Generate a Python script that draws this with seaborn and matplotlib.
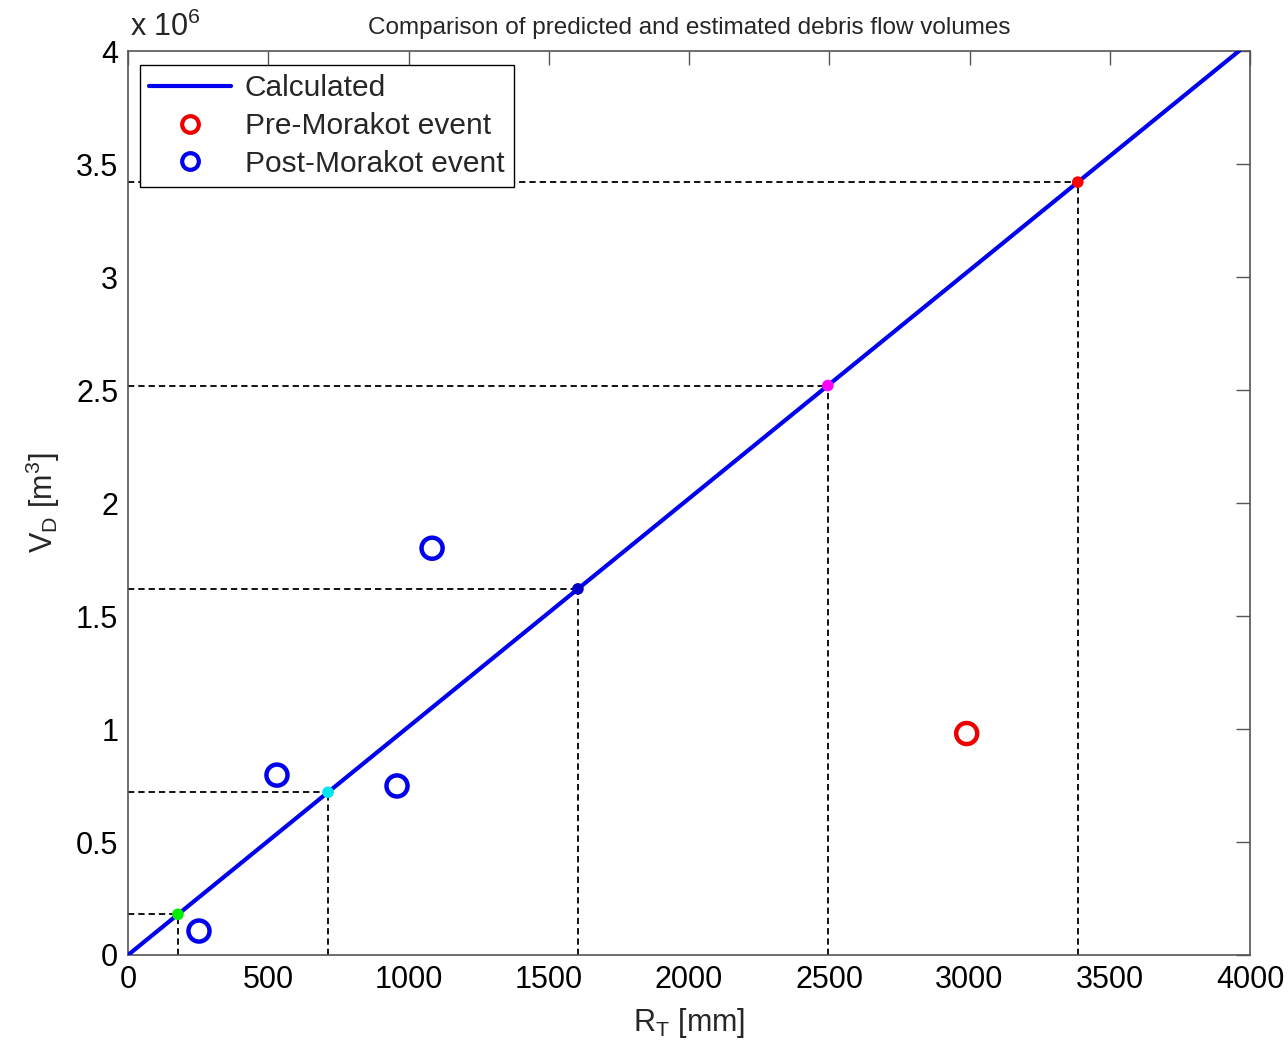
import matplotlib
matplotlib.use("Agg")
import matplotlib.pyplot as plt
import seaborn as sns
import pandas as pd
from matplotlib.ticker import MultipleLocator, FuncFormatter
from matplotlib.lines import Line2D

sns.set_style("white")
plt.rcParams["font.family"] = ["Liberation Sans", "DejaVu Sans"]
plt.rcParams["mathtext.default"] = "regular"

# Calculated relation (straight line through the origin)
line_r = [0, 4000]
line_v = [0, 4.04e6]

# Points picked off the calculated line, with their guide lines
mark_r = [178, 713, 1604, 2495, 3386]
mark_v = [0.18e6, 0.72e6, 1.62e6, 2.52e6, 3.42e6]
mark_colors = ["#00ee00", "#00e5ee", "#0000c8", "#ff00ff", "#ff0000"]

# Estimated volumes
pre_r = [2990]
pre_v = [0.98e6]
post_r = [253, 531, 959, 1084]
post_v = [0.106e6, 0.796e6, 0.748e6, 1.80e6]

fig = plt.figure(figsize=(12.88, 10.42), dpi=100)
ax = fig.add_axes([0.0994, 0.0835, 0.8711, 0.8675])

# dashed guide lines from the axes to each picked point
for r, v in zip(mark_r, mark_v):
    ax.plot([0, r], [v, v], color="black", lw=1.3, ls=(0, (3.5, 2.2)), zorder=2)
    ax.plot([r, r], [0, v], color="black", lw=1.3, ls=(0, (3.5, 2.2)), zorder=2)

df_line = pd.DataFrame({"R": line_r, "V": line_v})
sns.lineplot(data=df_line, x="R", y="V", ax=ax, color="#0000ee", lw=3, zorder=3)

df_mark = pd.DataFrame({"R": mark_r, "V": mark_v, "c": mark_colors})
sns.scatterplot(data=df_mark, x="R", y="V", hue="c", palette={c: c for c in mark_colors},
                ax=ax, s=70, edgecolor="none", legend=False, zorder=4)

df_pre = pd.DataFrame({"R": pre_r, "V": pre_v})
df_post = pd.DataFrame({"R": post_r, "V": post_v})
sns.scatterplot(data=df_pre, x="R", y="V", ax=ax, s=230, facecolor="none",
                edgecolor="#ee0000", linewidth=3.2, zorder=5)
sns.scatterplot(data=df_post, x="R", y="V", ax=ax, s=230, facecolor="none",
                edgecolor="#0000ee", linewidth=3.2, zorder=5)

ax.set_xlim(0, 4000)
ax.set_ylim(0, 4e6)
ax.xaxis.set_major_locator(MultipleLocator(500))
ax.yaxis.set_major_locator(MultipleLocator(0.5e6))
ax.yaxis.set_major_formatter(FuncFormatter(lambda v, p: f"{v/1e6:g}"))
ax.tick_params(direction="in", length=10, width=1, top=True, right=True,
               labelsize=22, colors="#555555", labelcolor="black", pad=7)
for s in ax.spines.values():
    s.set_color("#555555")
    s.set_linewidth(1.2)

ax.set_xlabel("R$_T$ [mm]", fontsize=22, labelpad=8)
ax.set_ylabel("V$_D$ [m$^3$]", fontsize=22, labelpad=10)
ax.set_title("Comparison of predicted and estimated debris flow volumes", fontsize=17.5, pad=12)
fig.text(0.101, 0.959, "x 10$^6$", fontsize=22, ha="left", va="bottom")

handles = [
    Line2D([], [], color="#0000ee", lw=3),
    Line2D([], [], marker="o", ls="none", markersize=12, markerfacecolor="none",
           markeredgecolor="#ee0000", markeredgewidth=3),
    Line2D([], [], marker="o", ls="none", markersize=12, markerfacecolor="none",
           markeredgecolor="#0000ee", markeredgewidth=3),
]
leg = ax.legend(handles, ["Calculated", "Pre-Morakot event", "Post-Morakot event"],
                loc="upper left", bbox_to_anchor=(0.0105, 0.985), fontsize=21.5,
                fancybox=False, framealpha=1, edgecolor="black", handlelength=2.75,
                handletextpad=0.45, borderpad=0.32, labelspacing=0.33, borderaxespad=0)
leg.get_frame().set_linewidth(1.0)

fig.savefig("out.png", dpi=100)
